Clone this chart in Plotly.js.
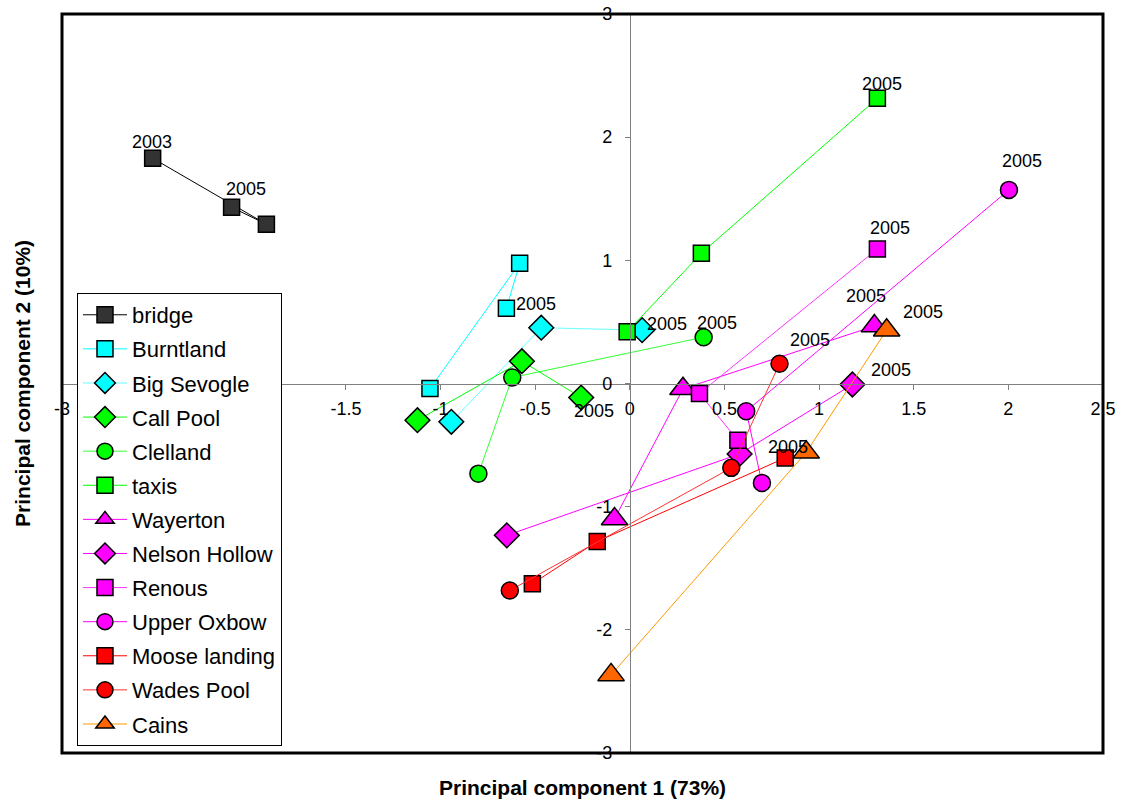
<!DOCTYPE html>
<html>
<head>
<meta charset="utf-8">
<script src="https://cdn.plot.ly/plotly-3.0.1.min.js"></script>
<style>html,body{margin:0;padding:0;background:#fff;}#chart{width:1121px;height:805px;}</style>
</head>
<body>
<div id="chart"></div>
<script>
// ---- data ----
const seriesNames = ["bridge","Burntland","Big Sevogle","Call Pool","Clelland","taxis","Wayerton","Nelson Hollow","Renous","Upper Oxbow","Moose landing","Wades Pool","Cains"];

const bridgeX = [-2.521, -1.920, -2.104];
const bridgeY = [1.829, 1.293, 1.431];
const bridgeLabels = ["2003", "", "2005"];

const burntlandX = [-1.056, -0.582, -0.652];
const burntlandY = [-0.041, 0.976, 0.610];
const burntlandLabels = ["", "", "2005"];

const bigSevogleX = [-0.943, -0.468, 0.065];
const bigSevogleY = [-0.311, 0.453, 0.433];
const bigSevogleLabels = ["", "", "2005"];

const callPoolX = [-1.122, -0.570, -0.257];
const callPoolY = [-0.298, 0.181, -0.114];
const callPoolLabels = ["", "", "2005"];

const clellandX = [-0.800, -0.621, 0.390];
const clellandY = [-0.732, 0.049, 0.376];
const clellandLabels = ["", "", "2005"];

const taxisX = [-0.014, 0.378, 1.308];
const taxisY = [0.420, 1.057, 2.315];
const taxisLabels = ["", "", "2005"];

const wayertonX = [-0.081, 0.281, 1.292];
const wayertonY = [-1.100, -0.043, 0.466];
const wayertonLabels = ["", "", "2005"];

const nelsonX = [-0.650, 0.580, 1.176];
const nelsonY = [-1.233, -0.572, -0.008];
const nelsonLabels = ["", "", "2005"];

const renousX = [0.571, 0.368, 1.308];
const renousY = [-0.461, -0.081, 1.092];
const renousLabels = ["", "", "2005"];

const oxbowX = [0.698, 0.615, 2.003];
const oxbowY = [-0.807, -0.225, 1.572];
const oxbowLabels = ["", "", "2005"];

const mooseX = [-0.515, -0.172, 0.821];
const mooseY = [-1.626, -1.282, -0.604];
const mooseLabels = ["", "", "2005"];

const wadesX = [-0.634, 0.536, 0.791];
const wadesY = [-1.680, -0.685, 0.160];
const wadesLabels = ["", "", "2005"];

const cainsX = [-0.099, 0.932, 1.357];
const cainsY = [-2.366, -0.559, 0.433];
const cainsLabels = ["", "", "2005"];

const xTickVals = [-3, -2.5, -2, -1.5, -1, -0.5, 0, 0.5, 1, 1.5, 2, 2.5];
const xTickText = ["-3", "", "", "-1.5", "-1", "-0.5", "0", "0.5", "1", "1.5", "2", "2.5"];
const yTickVals = [-3, -2, -1, 0, 1, 2, 3];
const yTickText = ["-3", "-2", "-1", "0", "1", "2", "3"];

const xTitle = "Principal component 1 (73%)";
const yTitle = "Principal component 2 (10%)";

// ---- styles ----
const seriesData = [
  {x: bridgeX, y: bridgeY, labels: bridgeLabels},
  {x: burntlandX, y: burntlandY, labels: burntlandLabels},
  {x: bigSevogleX, y: bigSevogleY, labels: bigSevogleLabels},
  {x: callPoolX, y: callPoolY, labels: callPoolLabels},
  {x: clellandX, y: clellandY, labels: clellandLabels},
  {x: taxisX, y: taxisY, labels: taxisLabels},
  {x: wayertonX, y: wayertonY, labels: wayertonLabels},
  {x: nelsonX, y: nelsonY, labels: nelsonLabels},
  {x: renousX, y: renousY, labels: renousLabels},
  {x: oxbowX, y: oxbowY, labels: oxbowLabels},
  {x: mooseX, y: mooseY, labels: mooseLabels},
  {x: wadesX, y: wadesY, labels: wadesLabels},
  {x: cainsX, y: cainsY, labels: cainsLabels}
];
const styles = [
  {symbol: "square", fill: "#333333", line: "#000000", size: 16},
  {symbol: "square", fill: "#00FFFF", line: "#00FFFF", size: 16},
  {symbol: "diamond", fill: "#00FFFF", line: "#66FFFF", size: 19},
  {symbol: "diamond", fill: "#00FF00", line: "#00FF00", size: 19},
  {symbol: "circle", fill: "#00FF00", line: "#33FF33", size: 17},
  {symbol: "square", fill: "#00FF00", line: "#00FF00", size: 16},
  {symbol: "triangle-up", fill: "#FF00FF", line: "#FF00FF", size: 23},
  {symbol: "diamond", fill: "#FF00FF", line: "#FF00FF", size: 19},
  {symbol: "square", fill: "#FF00FF", line: "#FF33FF", size: 16},
  {symbol: "circle", fill: "#FF00FF", line: "#FF00FF", size: 17},
  {symbol: "square", fill: "#FF0000", line: "#FF0000", size: 16},
  {symbol: "circle", fill: "#FF0000", line: "#FF3333", size: 17},
  {symbol: "triangle-up", fill: "#FF6600", line: "#FF9900", size: 23}
];
// label offsets in pixels (dx right, dy up) for each labelled point
const labelOffsets = [
  [[-1, 16], null, [14, 18]],
  [null, null, [30, 4]],
  [null, null, [25, 6]],
  [null, null, [13, -13]],
  [null, null, [13, 14]],
  [null, null, [5, 14]],
  [null, null, [-8, 30]],
  [null, null, [39, 14]],
  [null, null, [13, 21]],
  [null, null, [13, 29]],
  [null, null, [3, 11]],
  [null, null, [30, 24]],
  [null, null, [36, 18]]
];

const FONT = "Arial, 'Liberation Sans', Helvetica, sans-serif";

const traces = seriesData.map((s, i) => ({
  type: "scatter",
  mode: "lines+markers",
  name: seriesNames[i],
  legendgroup: "g" + i,
  x: s.x, y: s.y,
  line: {color: styles[i].line, width: 1},
  marker: {symbol: styles[i].symbol, size: styles[i].size, color: styles[i].fill,
           line: {color: "#000000", width: 1.5}},
  hoverinfo: "x+y+name"
}));

const annotations = [];
seriesData.forEach((s, i) => {
  s.labels.forEach((t, j) => {
    if (t && labelOffsets[i][j]) {
      annotations.push({
        x: s.x[j], y: s.y[j], xref: "x", yref: "y",
        text: t, showarrow: false,
        xshift: labelOffsets[i][j][0], yshift: labelOffsets[i][j][1],
        font: {family: FONT, size: 18, color: "#000"}
      });
    }
  });
});
annotations.push({
  xref: "paper", yref: "paper", x: 0.5, y: -0.047, yanchor: "middle", xanchor: "center",
  text: "<b>" + xTitle + "</b>", showarrow: false,
  font: {family: FONT, size: 21, color: "#000"}
});
annotations.push({
  xref: "paper", yref: "paper", x: -0.038, y: 0.5, xanchor: "center", yanchor: "middle",
  text: "<b>" + yTitle + "</b>", showarrow: false, textangle: -90,
  font: {family: FONT, size: 21, color: "#000"}
});

const layout = {
  width: 1121, height: 805,
  margin: {l: 62, r: 18, t: 14, b: 52},
  paper_bgcolor: "#ffffff", plot_bgcolor: "#ffffff",
  font: {family: FONT, size: 18, color: "#000"},
  showlegend: true,
  xaxis: {
    range: [-3, 2.5], anchor: "free", position: 0.5,
    showgrid: false, zeroline: false,
    showline: true, linecolor: "#808080", linewidth: 1.5,
    ticks: "outside", ticklen: 5, tickcolor: "#808080", tickwidth: 1,
    ticklabelstandoff: 3,
    tickvals: xTickVals, ticktext: xTickText,
    tickfont: {family: FONT, size: 18, color: "#000"}
  },
  yaxis: {
    range: [-3, 3], anchor: "free", position: 3 / 5.5,
    showgrid: false, zeroline: false,
    showline: true, linecolor: "#808080", linewidth: 1.5,
    ticks: "outside", ticklen: 5, tickcolor: "#808080", tickwidth: 1,
    ticklabelstandoff: 9,
    tickvals: yTickVals, ticktext: yTickText,
    tickfont: {family: FONT, size: 18, color: "#000"}
  },
  legend: {
    x: 0.0144, y: 0.6225, xanchor: "left", yanchor: "top",
    bgcolor: "#ffffff", bordercolor: "#000000", borderwidth: 1,
    font: {family: FONT, size: 22, color: "#000"},
    traceorder: "grouped", tracegroupgap: 2.5, itemwidth: 44
  },
  shapes: [{
    type: "rect", xref: "paper", yref: "paper", x0: 0, x1: 1, y0: 0, y1: 1,
    line: {color: "#000000", width: 3}, layer: "above"
  }],
  annotations: annotations
};

Plotly.newPlot("chart", traces, layout, {displayModeBar: false, staticPlot: true});
</script>
</body>
</html>
